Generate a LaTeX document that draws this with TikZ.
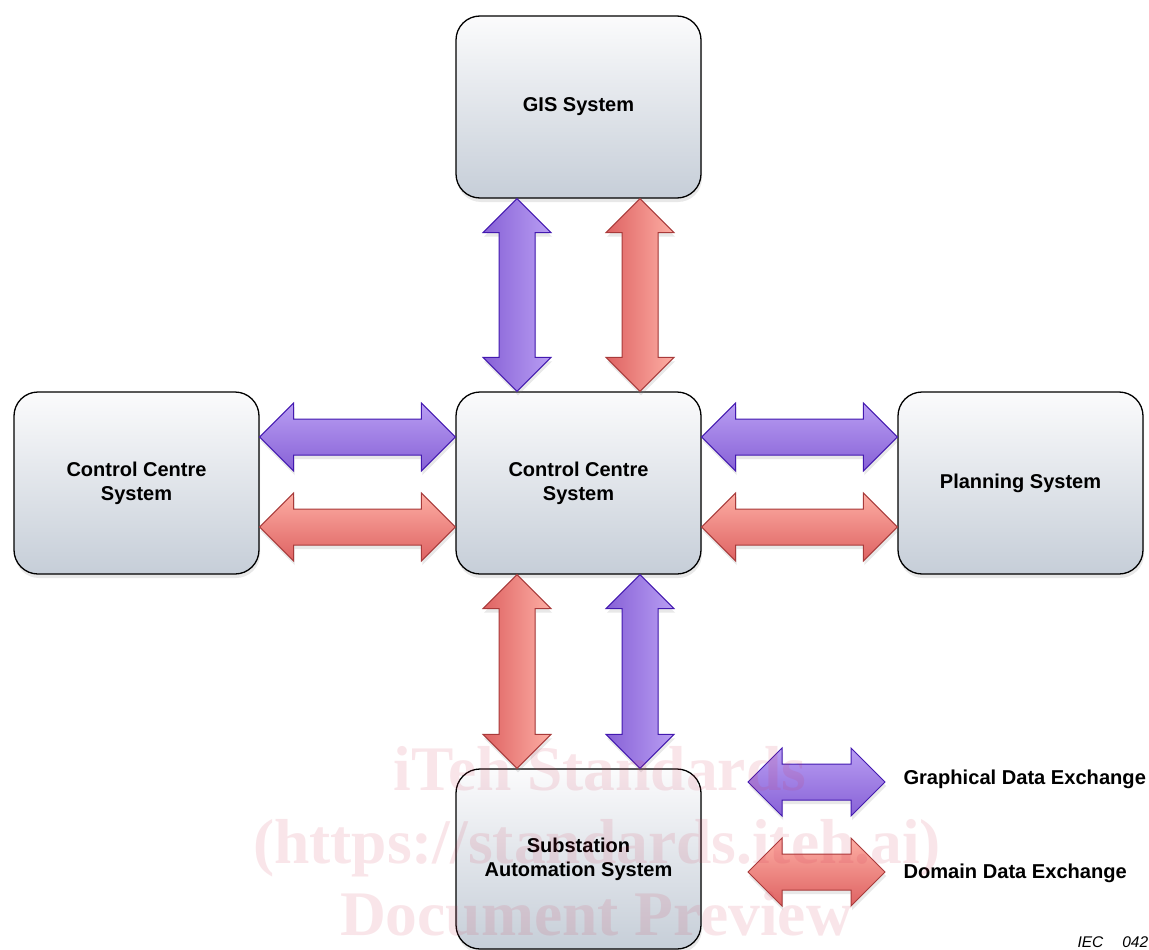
\documentclass[tikz,border=0pt]{standalone}
\usepackage{fontspec}
\setmainfont{Liberation Sans}
\newfontfamily\wmfont{Liberation Serif}
\usetikzlibrary{calc,shadows}
\definecolor{boxtop}{HTML}{FBFBFC}
\definecolor{boxbot}{HTML}{C6CED8}
\definecolor{purlight}{HTML}{B99EF3}
\definecolor{purdark}{HTML}{8761D6}
\definecolor{purline}{HTML}{4319B0}
\definecolor{redlight}{HTML}{FDAEA4}
\definecolor{reddark}{HTML}{DE6262}
\definecolor{redline}{HTML}{A83A3A}
\definecolor{wmcolor}{HTML}{D0304E}
\tikzset{
  sysbox/.style={draw=black, line width=1.3pt, rounded corners=24pt,
    top color=boxtop, bottom color=boxbot, minimum width=245pt, minimum height=182pt,
    align=center, font=\bfseries\fontsize{20}{24}\selectfont,
    drop shadow={opacity=0.18, shadow xshift=1pt, shadow yshift=-4pt}},
  arrshadow/.style={drop shadow={opacity=0.18, shadow xshift=1pt, shadow yshift=-4pt}},
  purH/.style={draw=purline, line width=1pt, top color=purlight, bottom color=purdark, arrshadow},
  purV/.style={draw=purline, line width=1pt, left color=purdark, right color=purlight, arrshadow},
  redH/.style={draw=redline, line width=1pt, top color=redlight, bottom color=reddark, arrshadow},
  redV/.style={draw=redline, line width=1pt, left color=reddark, right color=redlight, arrshadow},
  legendtext/.style={anchor=west, font=\bfseries\fontsize{20.1}{24}\selectfont},
  watermark/.style={font=\wmfont\bfseries\fontsize{63.5}{70}\selectfont, text=wmcolor, text opacity=0.12},
}
\newcommand\dblarrow[3]{%
  \path[#1] (#2)
    -- ($(#2)!34pt!(#3)!34pt!90:(#3)$)
    -- ($(#2)!34pt!(#3)!18pt!90:(#3)$)
    -- ($(#3)!34pt!(#2)!18pt!-90:(#2)$)
    -- ($(#3)!34pt!(#2)!34pt!-90:(#2)$)
    -- (#3)
    -- ($(#3)!34pt!(#2)!34pt!90:(#2)$)
    -- ($(#3)!34pt!(#2)!18pt!90:(#2)$)
    -- ($(#2)!34pt!(#3)!18pt!-90:(#3)$)
    -- ($(#2)!34pt!(#3)!34pt!-90:(#3)$)
    -- cycle;}
\begin{document}
\begin{tikzpicture}[x=1pt,y=-1pt]
\useasboundingbox[fill=white] (0,0) rectangle (1149,950);
% boxes
\node[sysbox] (gis) at (578.5,107) {GIS System};
\node[sysbox] (ccc) at (578.5,483) {Control Centre\\System};
\node[sysbox] (lcc) at (136.5,483) {Control Centre\\System};
\node[sysbox] (plan) at (1020.5,483) {Planning System};
\node[sysbox, minimum height=180pt] (sub) at (578.5,859) {Substation\\Automation System};
% connector end points
\coordinate (gp) at ($(gis.south)+(-61.5,0)$);
\coordinate (cp) at ($(ccc.north)+(-61.5,0)$);
\coordinate (gr) at ($(gis.south)+(61.5,0)$);
\coordinate (cr) at ($(ccc.north)+(61.5,0)$);
\coordinate (lp) at ($(lcc.east)+(0,-46)$);
\coordinate (clp) at ($(ccc.west)+(0,-46)$);
\coordinate (lr) at ($(lcc.east)+(0,44)$);
\coordinate (clr) at ($(ccc.west)+(0,44)$);
\coordinate (crp) at ($(ccc.east)+(0,-46)$);
\coordinate (pp) at ($(plan.west)+(0,-46)$);
\coordinate (crr) at ($(ccc.east)+(0,44)$);
\coordinate (pr) at ($(plan.west)+(0,44)$);
\coordinate (cbr) at ($(ccc.south)+(-61.5,0)$);
\coordinate (sr) at ($(sub.north)+(-61.5,0)$);
\coordinate (cbp) at ($(ccc.south)+(61.5,0)$);
\coordinate (sp) at ($(sub.north)+(61.5,0)$);
\coordinate (legpa) at (748,782);
\coordinate (legpb) at (885,782);
\coordinate (legra) at (748,872);
\coordinate (legrb) at (885,872);
% arrows
\dblarrow{purV}{gp}{cp}
\dblarrow{redV}{gr}{cr}
\dblarrow{purH}{lp}{clp}
\dblarrow{redH}{lr}{clr}
\dblarrow{purH}{crp}{pp}
\dblarrow{redH}{crr}{pr}
\dblarrow{redV}{cbr}{sr}
\dblarrow{purV}{cbp}{sp}
\dblarrow{purH}{legpa}{legpb}
\dblarrow{redH}{legra}{legrb}
% legend
\node[legendtext] (lgp) at (900,779) {Graphical Data Exchange};
\node[legendtext] (lgr) at (900,873) {Domain Data Exchange};
\node[anchor=base west, font=\itshape\fontsize{15.5}{18}\selectfont] (iec) at (1074,947) {IEC\hspace{19pt}042};
% watermark
\node[watermark, anchor=base] (wm1) at (600,790) {iTeh Standards};
\node[watermark, anchor=base] (wm2) at (597,863) {(https://standards.iteh.ai)};
\node[watermark, anchor=base] (wm3) at (596,935) {Document Preview};
\end{tikzpicture}
\end{document}
